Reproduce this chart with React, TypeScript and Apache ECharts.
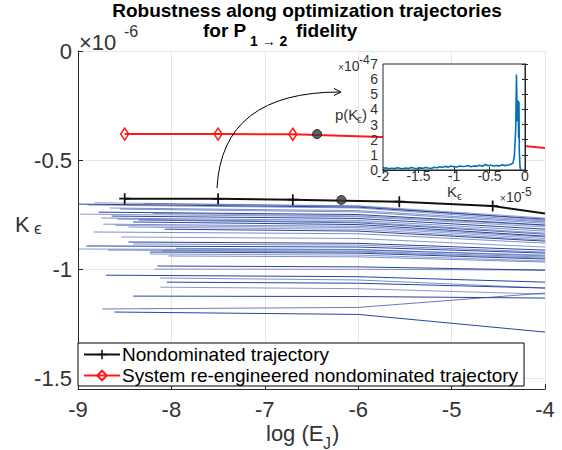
import React, { useEffect, useRef } from 'react';
import * as echarts from 'echarts';

const FONT = '"Liberation Sans", Arial, Helvetica, "DejaVu Sans", sans-serif';

// Main axes
const xMin = -9;
const xMax = -4;
const yMin = -1.55;
const yMax = 0;
const yTicks = [-1.5, -1, -0.5, 0];

// Nondominated trajectory (K in units of 1e-6)
const blackX = [-8.5, -7.5, -6.7, -5.56, -4.56, -4];
const blackY = [-0.677, -0.678, -0.682, -0.691, -0.711, -0.745];
const blackDot = [-6.18, -0.683];

// System re-engineered nondominated trajectory
const redX = [-8.5, -7.5, -6.7, -5.5, -4.5, -4];
const redY = [-0.381, -0.381, -0.382, -0.398, -0.425, -0.445];
const redDot = [-6.44, -0.381];

// Other optimization trajectories: start point, value at x=-6, value at x=-4
const blueStartX = [-8.82, -9.0, -8.9, -8.66, -8.78, -8.98, -8.64, -8.75, -8.58, -8.41, -8.73, -8.46, -8.07, -8.83, -8.54, -8.46, -8.41, -8.91, -9.0, -8.68, -8.23, -8.23, -8.03, -8.15, -8.18, -8.7, -8.12, -8.05, -8.12, -8.41, -8.74, -8.61, -8.3, -8.55, -8.2, -8.35, -8.6, -7.95, -8.1];
const blueStartY = [-0.696, -0.702, -0.706, -0.72, -0.739, -0.748, -0.757, -0.766, -0.771, -0.784, -0.794, -0.807, -0.817, -0.83, -0.853, -0.876, -0.885, -0.894, -0.908, -0.913, -0.922, -0.931, -0.94, -0.986, -1.0, -1.028, -1.041, -1.06, -1.083, -1.124, -1.183, -1.197, -0.7, -0.725, -0.745, -0.775, -0.8, -0.905, -0.917];
const blueMidX = -6;
const blueMidY = [-0.71, -0.716, -0.72, -0.732, -0.75, -0.76, -0.768, -0.777, -0.784, -0.796, -0.804, -0.818, -0.826, -0.838, -0.86, -0.882, -0.89, -0.899, -0.912, -0.918, -0.927, -0.936, -0.944, -0.99, -1.001, -1.035, -1.05, -1.065, -1.09, -1.126, -1.176, -1.208, -0.712, -0.738, -0.756, -0.788, -0.81, -0.91, -0.922];
const blueEndX = -4;
const blueEndY = [-0.766, -0.771, -0.78, -0.784, -0.798, -0.807, -0.817, -0.826, -0.835, -0.849, -0.853, -0.867, -0.872, -0.881, -0.899, -0.913, -0.922, -0.927, -0.936, -0.945, -0.954, -0.963, -0.968, -1.005, -1.005, -1.06, -1.087, -1.087, -1.115, -1.133, -1.11, -1.289, -0.775, -0.79, -0.8, -0.84, -0.86, -0.94, -0.95];
const blueAlpha = [0.5, 1, 0.55, 0.6, 1, 0.55, 1, 0.6, 0.55, 1, 0.6, 0.55, 1, 0.6, 0.55, 1, 0.6, 1, 0.55, 0.6, 1, 0.55, 0.6, 1, 0.55, 1, 0.6, 1, 0.55, 1, 0.7, 1, 0.5, 0.6, 0.5, 0.8, 0.5, 0.6, 0.5];

// Inset: p(K) histogram, K in units of 1e-5, p in units of 1e-4
const insetX = [-2.0, -1.96, -1.92, -1.88, -1.84, -1.8, -1.76, -1.72, -1.68, -1.64, -1.6, -1.56, -1.52, -1.48, -1.44, -1.4, -1.36, -1.32, -1.28, -1.24, -1.2, -1.16, -1.12, -1.08, -1.04, -1.0, -0.96, -0.92, -0.88, -0.84, -0.8, -0.76, -0.72, -0.68, -0.64, -0.6, -0.56, -0.52, -0.48, -0.44, -0.4, -0.36, -0.32, -0.28, -0.24, -0.2, -0.17, -0.15, -0.13, -0.12, -0.11, -0.1, -0.095, -0.09, -0.085, -0.08, -0.07, -0.06];
const insetY = [0.1, 0.14, 0.08, 0.12, 0.09, 0.15, 0.11, 0.08, 0.13, 0.1, 0.16, 0.12, 0.09, 0.14, 0.11, 0.17, 0.13, 0.1, 0.18, 0.15, 0.21, 0.17, 0.24, 0.19, 0.26, 0.22, 0.2, 0.27, 0.23, 0.25, 0.29, 0.22, 0.27, 0.24, 0.31, 0.25, 0.36, 0.28, 0.32, 0.26, 0.3, 0.27, 0.34, 0.29, 0.33, 0.38, 0.45, 0.9, 2.8, 6.3, 3.2, 4.6, 4.4, 2.1, 4.5, 1.2, 0.2, 0.0];

const legendNames = ['Nondominated trajectory', 'System re-engineered nondominated trajectory'];

const BLUE = 'rgb(38,68,163)';
const PLUS = 'path://M4.2,0H5.8V4.2H10V5.8H5.8V10H4.2V5.8H0V4.2H4.2Z';
const TICK_COLOR = '#333333';

function buildOption() {
  const blueSeries = blueStartX.map((x0, i) => ({
    name: 'trajectory ' + (i + 1),
    type: 'line',
    data: [[x0, blueStartY[i]], [blueMidX, blueMidY[i]], [blueEndX, blueEndY[i]]],
    symbol: 'none',
    silent: true,
    z: 2,
    lineStyle: { color: BLUE, width: 1, opacity: blueAlpha[i] },
  }));

  const blackData = blackX.map((x, i) =>
    i === blackX.length - 1 ? { value: [x, blackY[i]], symbol: 'none' } : { value: [x, blackY[i]] }
  );
  const redData = redX.map((x, i) =>
    i === redX.length - 1 ? { value: [x, redY[i]], symbol: 'none' } : { value: [x, redY[i]] }
  );

  const insetAxisCommon = {
    gridIndex: 1,
    type: 'value',
    z: 8,
    axisLine: { show: true, lineStyle: { color: '#262626', width: 1 } },
    axisTick: { show: true, inside: true, length: 3, lineStyle: { color: '#262626' } },
    splitLine: { show: false },
  };

  const t = (x: number, y: number, text: string, size: number, bold = false, align = 'left', fill = TICK_COLOR) => ({
    type: 'text', x, y, z: 30,
    style: { text, font: `${bold ? 'bold ' : ''}${size}px ${FONT}`, fill, align, verticalAlign: 'middle' },
  });

  return {
    animation: false,
    textStyle: { fontFamily: FONT },
    grid: [
      { left: 78, top: 51, width: 467, height: 338, containLabel: false },
      {
        left: 383, top: 64, width: 142, height: 106, show: true,
        backgroundColor: '#ffffff', borderColor: '#262626', borderWidth: 1, z: 6,
      },
    ],
    xAxis: [
      {
        type: 'value', gridIndex: 0, min: xMin, max: xMax, interval: 1,
        axisLine: { show: true, onZero: false, lineStyle: { color: '#262626', width: 1 } },
        axisTick: { show: true, inside: true, length: 5, lineStyle: { color: '#262626' } },
        axisLabel: { fontSize: 22, color: TICK_COLOR, margin: 9, fontFamily: FONT },
        splitLine: { show: true, lineStyle: { color: '#e6e6e6', width: 1 } },
      },
      {
        ...insetAxisCommon, position: 'bottom', min: -2, max: 0, interval: 0.5,
        axisLabel: { fontSize: 14, color: TICK_COLOR, margin: -1, fontFamily: FONT },
      },
      {
        ...insetAxisCommon, position: 'top', min: -2, max: 0, interval: 0.5,
        axisLabel: { show: false },
      },
    ],
    yAxis: [
      {
        type: 'value', gridIndex: 0, min: yMin, max: yMax,
        axisLine: { show: true, onZero: false, lineStyle: { color: '#262626', width: 1 } },
        axisTick: { show: true, inside: true, length: 5, customValues: yTicks, lineStyle: { color: '#262626' } },
        axisLabel: { fontSize: 22, color: TICK_COLOR, margin: 6, customValues: yTicks, fontFamily: FONT },
        splitLine: { show: true, lineStyle: { color: '#e6e6e6', width: 1 } },
      },
      {
        ...insetAxisCommon, position: 'left', min: 0, max: 7, interval: 1,
        axisLabel: { fontSize: 14, color: TICK_COLOR, margin: 5, fontFamily: FONT },
      },
      {
        ...insetAxisCommon, position: 'right', min: 0, max: 7, interval: 1,
        axisLabel: { show: false },
      },
    ],
    legend: {
      data: legendNames,
      orient: 'vertical',
      left: 78,
      top: 343,
      backgroundColor: '#ffffff',
      borderColor: '#000000',
      borderWidth: 1,
      borderRadius: 0,
      padding: [2, 6, 1, 5],
      itemGap: 2,
      itemWidth: 36,
      itemHeight: 12,
      z: 20,
      textStyle: { fontSize: 19, color: '#000000', fontFamily: FONT, padding: [0, 0, 0, -3] },
    },
    series: [
      ...blueSeries,
      {
        name: legendNames[0],
        type: 'line',
        data: blackData,
        symbol: PLUS,
        symbolSize: 11,
        z: 3,
        lineStyle: { color: '#111111', width: 2 },
        itemStyle: { color: '#111111' },
      },
      {
        name: legendNames[1],
        type: 'line',
        data: redData,
        symbol: 'diamond',
        symbolSize: [8, 12],
        z: 3,
        lineStyle: { color: '#ff1a1a', width: 2 },
        itemStyle: { color: 'rgba(255,255,255,0)', borderColor: '#ff1a1a', borderWidth: 1.6 },
      },
      {
        name: 'selected points',
        type: 'scatter',
        data: [blackDot, redDot],
        symbol: 'circle',
        symbolSize: 9,
        z: 4,
        itemStyle: { color: '#3a3a3a', borderColor: '#111111', borderWidth: 1 },
      },
      {
        name: 'p(K)',
        type: 'line',
        xAxisIndex: 1,
        yAxisIndex: 1,
        data: insetX.map((x, i) => [x, insetY[i]]),
        symbol: 'none',
        z: 9,
        lineStyle: { color: '#0072BD', width: 1.6 },
      },
    ],
    graphic: [
      // title
      t(307, 10, 'Robustness along optimization trajectories', 19, true, 'center', '#000'),
      t(203, 30, 'for P', 19, true, 'left', '#000'),
      t(250, 41, '1 → 2', 14, true, 'left', '#000'),
      t(296, 30, 'fidelity', 19, true, 'left', '#000'),
      // exponent of main y axis
      t(79, 42, '×10', 22),
      t(124, 31, '-6', 16),
      // y axis name
      t(15, 224, 'K', 22),
      t(34, 228, 'ϵ', 17),
      // x axis name
      t(266, 433, 'log (E', 22),
      t(323, 443, 'J', 16),
      t(332, 433, ')', 22),
      // inset annotations
      t(338, 67, '×', 10),
      t(344, 66, '10', 14),
      t(359, 60, '-4', 12),
      t(335, 114, 'p(K', 15),
      t(357, 119, 'ϵ', 11),
      t(362, 114, ')', 15),
      t(447, 191, 'K', 15),
      t(457, 196, 'ϵ', 11),
      t(500, 198, '×', 10),
      t(506, 197, '10', 14),
      t(521, 192, '-5', 12),
      // arrow from trajectory to inset
      {
        type: 'bezierCurve', z: 30,
        shape: { x1: 217, y1: 188, cpx1: 222, cpy1: 92, x2: 340, y2: 92 },
        style: { stroke: '#000', lineWidth: 1, fill: 'none' },
      },
      {
        type: 'polyline', z: 30,
        shape: { points: [[334, 88.5], [341, 92], [334, 95.5]] },
        style: { stroke: '#000', lineWidth: 1, fill: 'none' },
      },
    ],
  };
}

export default function App() {
  const ref = useRef<HTMLDivElement>(null);
  useEffect(() => {
    if (!ref.current) return;
    const chart = echarts.init(ref.current, null, { renderer: 'svg' });
    chart.setOption(buildOption() as any);
    return () => chart.dispose();
  }, []);
  return (
    <div
      ref={ref}
      style={{ position: 'fixed', left: 0, top: 0, width: 562, height: 450, background: '#ffffff' }}
    />
  );
}
